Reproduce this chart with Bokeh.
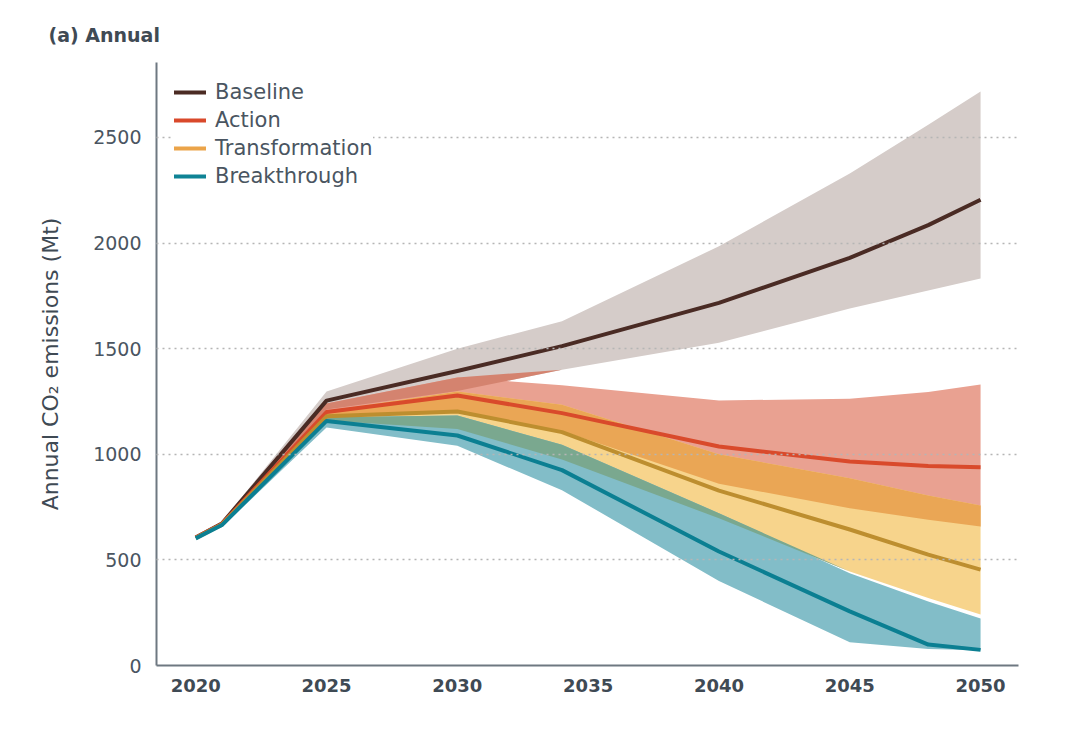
import numpy as np
from bokeh.plotting import figure
from bokeh.models import Range1d, FixedTicker, Legend, LegendItem
from bokeh.embed import file_html
from bokeh.resources import INLINE

# ---------------- data (Mt CO2) ----------------
years = [2020, 2021, 2025, 2030, 2034, 2040, 2045, 2048, 2050]

baseline      = [606, 672, 1254, 1394, 1512, 1717, 1930, 2085, 2205]
baseline_low  = [606, 664, 1212, 1300, 1400, 1528, 1690, 1775, 1832]
baseline_high = [606, 680, 1297, 1500, 1630, 1985, 2330, 2560, 2718]

action      = [606, 670, 1200, 1278, 1195, 1037, 966, 945, 939]
action_low  = [606, 662, 1180, 1195, 1110, 860, 745, 690, 658]
action_high = [606, 678, 1240, 1364, 1327, 1255, 1263, 1295, 1330]

transformation      = [604, 668, 1180, 1203, 1105, 828, 644, 525, 454]
transformation_low  = [604, 660, 1160, 1120, 975, 697, 445, 319, 241]
transformation_high = [604, 676, 1205, 1297, 1235, 1000, 887, 805, 758]

breakthrough      = [602, 665, 1158, 1089, 925, 540, 256, 99, 74]
breakthrough_low  = [602, 655, 1127, 1040, 830, 400, 110, 78, 72]
breakthrough_high = [602, 673, 1175, 1184, 1045, 721, 437, 303, 223]

series_names = ["Baseline", "Action", "Transformation", "Breakthrough"]
x_ticks = [2020, 2025, 2030, 2035, 2040, 2045, 2050]
y_ticks = [0, 500, 1000, 1500, 2000, 2500]

# ---------------- styling ----------------
FONT = "DejaVu Sans"
TXT = "#3f4a54"
line_cols = ["#4a2b24", "#d94a2b", "#bd8e2f", "#0b7f92"]
legend_cols = ["#4b2b23", "#d9492b", "#eba449", "#0f8395"]
band_cols = ["#d5ccc9", "#e9a191", "#f7d48c", "#82bdc8"]
ov_grey_action = "#d4836f"
ov_action_trans = "#eaa655"
ov_trans_teal = "#7aa88f"

p = figure(width=1072, height=728, output_backend="svg", toolbar_location=None,
           x_range=Range1d(2018.5, 2051.45), y_range=Range1d(0, 2855),
           min_border_left=156, min_border_right=54, min_border_top=62,
           min_border_bottom=63)
p.outline_line_color = None
p.background_fill_color = "white"

x = np.array(years, dtype=float)
bands = [(baseline_low, baseline_high), (action_low, action_high),
         (transformation_low, transformation_high),
         (breakthrough_low, breakthrough_high)]
for (lo, hi), c in zip(bands, band_cols):
    p.varea(x=x, y1=lo, y2=hi, fill_color=c, fill_alpha=1.0)


def overlap(a, b):
    lo = np.maximum(np.array(a[0], float), np.array(b[0], float))
    hi = np.minimum(np.array(a[1], float), np.array(b[1], float))
    return lo, np.maximum(lo, hi)


for (i, j), c in [((0, 1), ov_grey_action), ((1, 2), ov_action_trans),
                  ((2, 3), ov_trans_teal)]:
    lo, hi = overlap(bands[i], bands[j])
    p.varea(x=x, y1=lo, y2=hi, fill_color=c, fill_alpha=1.0)

for ys, c in zip([baseline, action, transformation, breakthrough], line_cols):
    p.line(x=x, y=ys, line_color=c, line_width=4, line_join="round")

# legend (placeholder renderers carrying the legend colours)
items = []
for name, c in zip(series_names, legend_cols):
    r = p.line(x=[np.nan], y=[np.nan], line_color=c, line_width=4, line_cap="round")
    items.append(LegendItem(label=name, renderers=[r]))
legend = Legend(items=items, location="top_left")
legend.margin = 18
legend.padding = 9
legend.glyph_width = 32
legend.glyph_height = 20
legend.label_height = 20
legend.spacing = 4
legend.label_standoff = 9
legend.label_text_font = FONT
legend.label_text_font_size = "21px"
legend.label_text_color = "#4a5561"
legend.border_line_color = None
legend.background_fill_color = "white"
legend.background_fill_alpha = 1.0
p.add_layout(legend)

# axes
p.xaxis.ticker = FixedTicker(ticks=x_ticks)
p.yaxis.ticker = FixedTicker(ticks=y_ticks)
for ax in (p.xaxis[0], p.yaxis[0]):
    ax.axis_line_color = "#6e7881"
    ax.axis_line_width = 2
    ax.major_tick_line_color = None
    ax.minor_tick_line_color = None
    ax.major_label_text_font = FONT
p.xaxis.major_label_text_font_size = "18px"
p.xaxis.major_label_text_font_style = "bold"
p.xaxis.major_label_text_color = TXT
p.xaxis.major_label_standoff = 7
p.yaxis.major_label_text_font_size = "19px"
p.yaxis.major_label_text_color = "#4a5561"
p.yaxis.major_label_standoff = 9
p.yaxis.axis_label = "Annual CO\u2082 emissions (Mt)"
p.yaxis.axis_label_text_font = FONT
p.yaxis.axis_label_text_font_size = "22px"
p.yaxis.axis_label_text_font_style = "normal"
p.yaxis.axis_label_text_color = TXT
p.yaxis.axis_label_standoff = 27

p.xgrid.grid_line_color = None
p.ygrid.grid_line_color = "#b5b5b5"
p.ygrid.grid_line_dash = "2 4"
p.ygrid.grid_line_width = 1.5
p.ygrid.level = "guide"

p.title.text = "(a) Annual"
p.title.text_font = FONT
p.title.text_font_size = "19px"
p.title.text_font_style = "bold"
p.title.text_color = TXT
p.title.align = "left"
p.title.offset = -108
p.title.standoff = 33

open("out.html", "w").write(file_html(p, INLINE))
